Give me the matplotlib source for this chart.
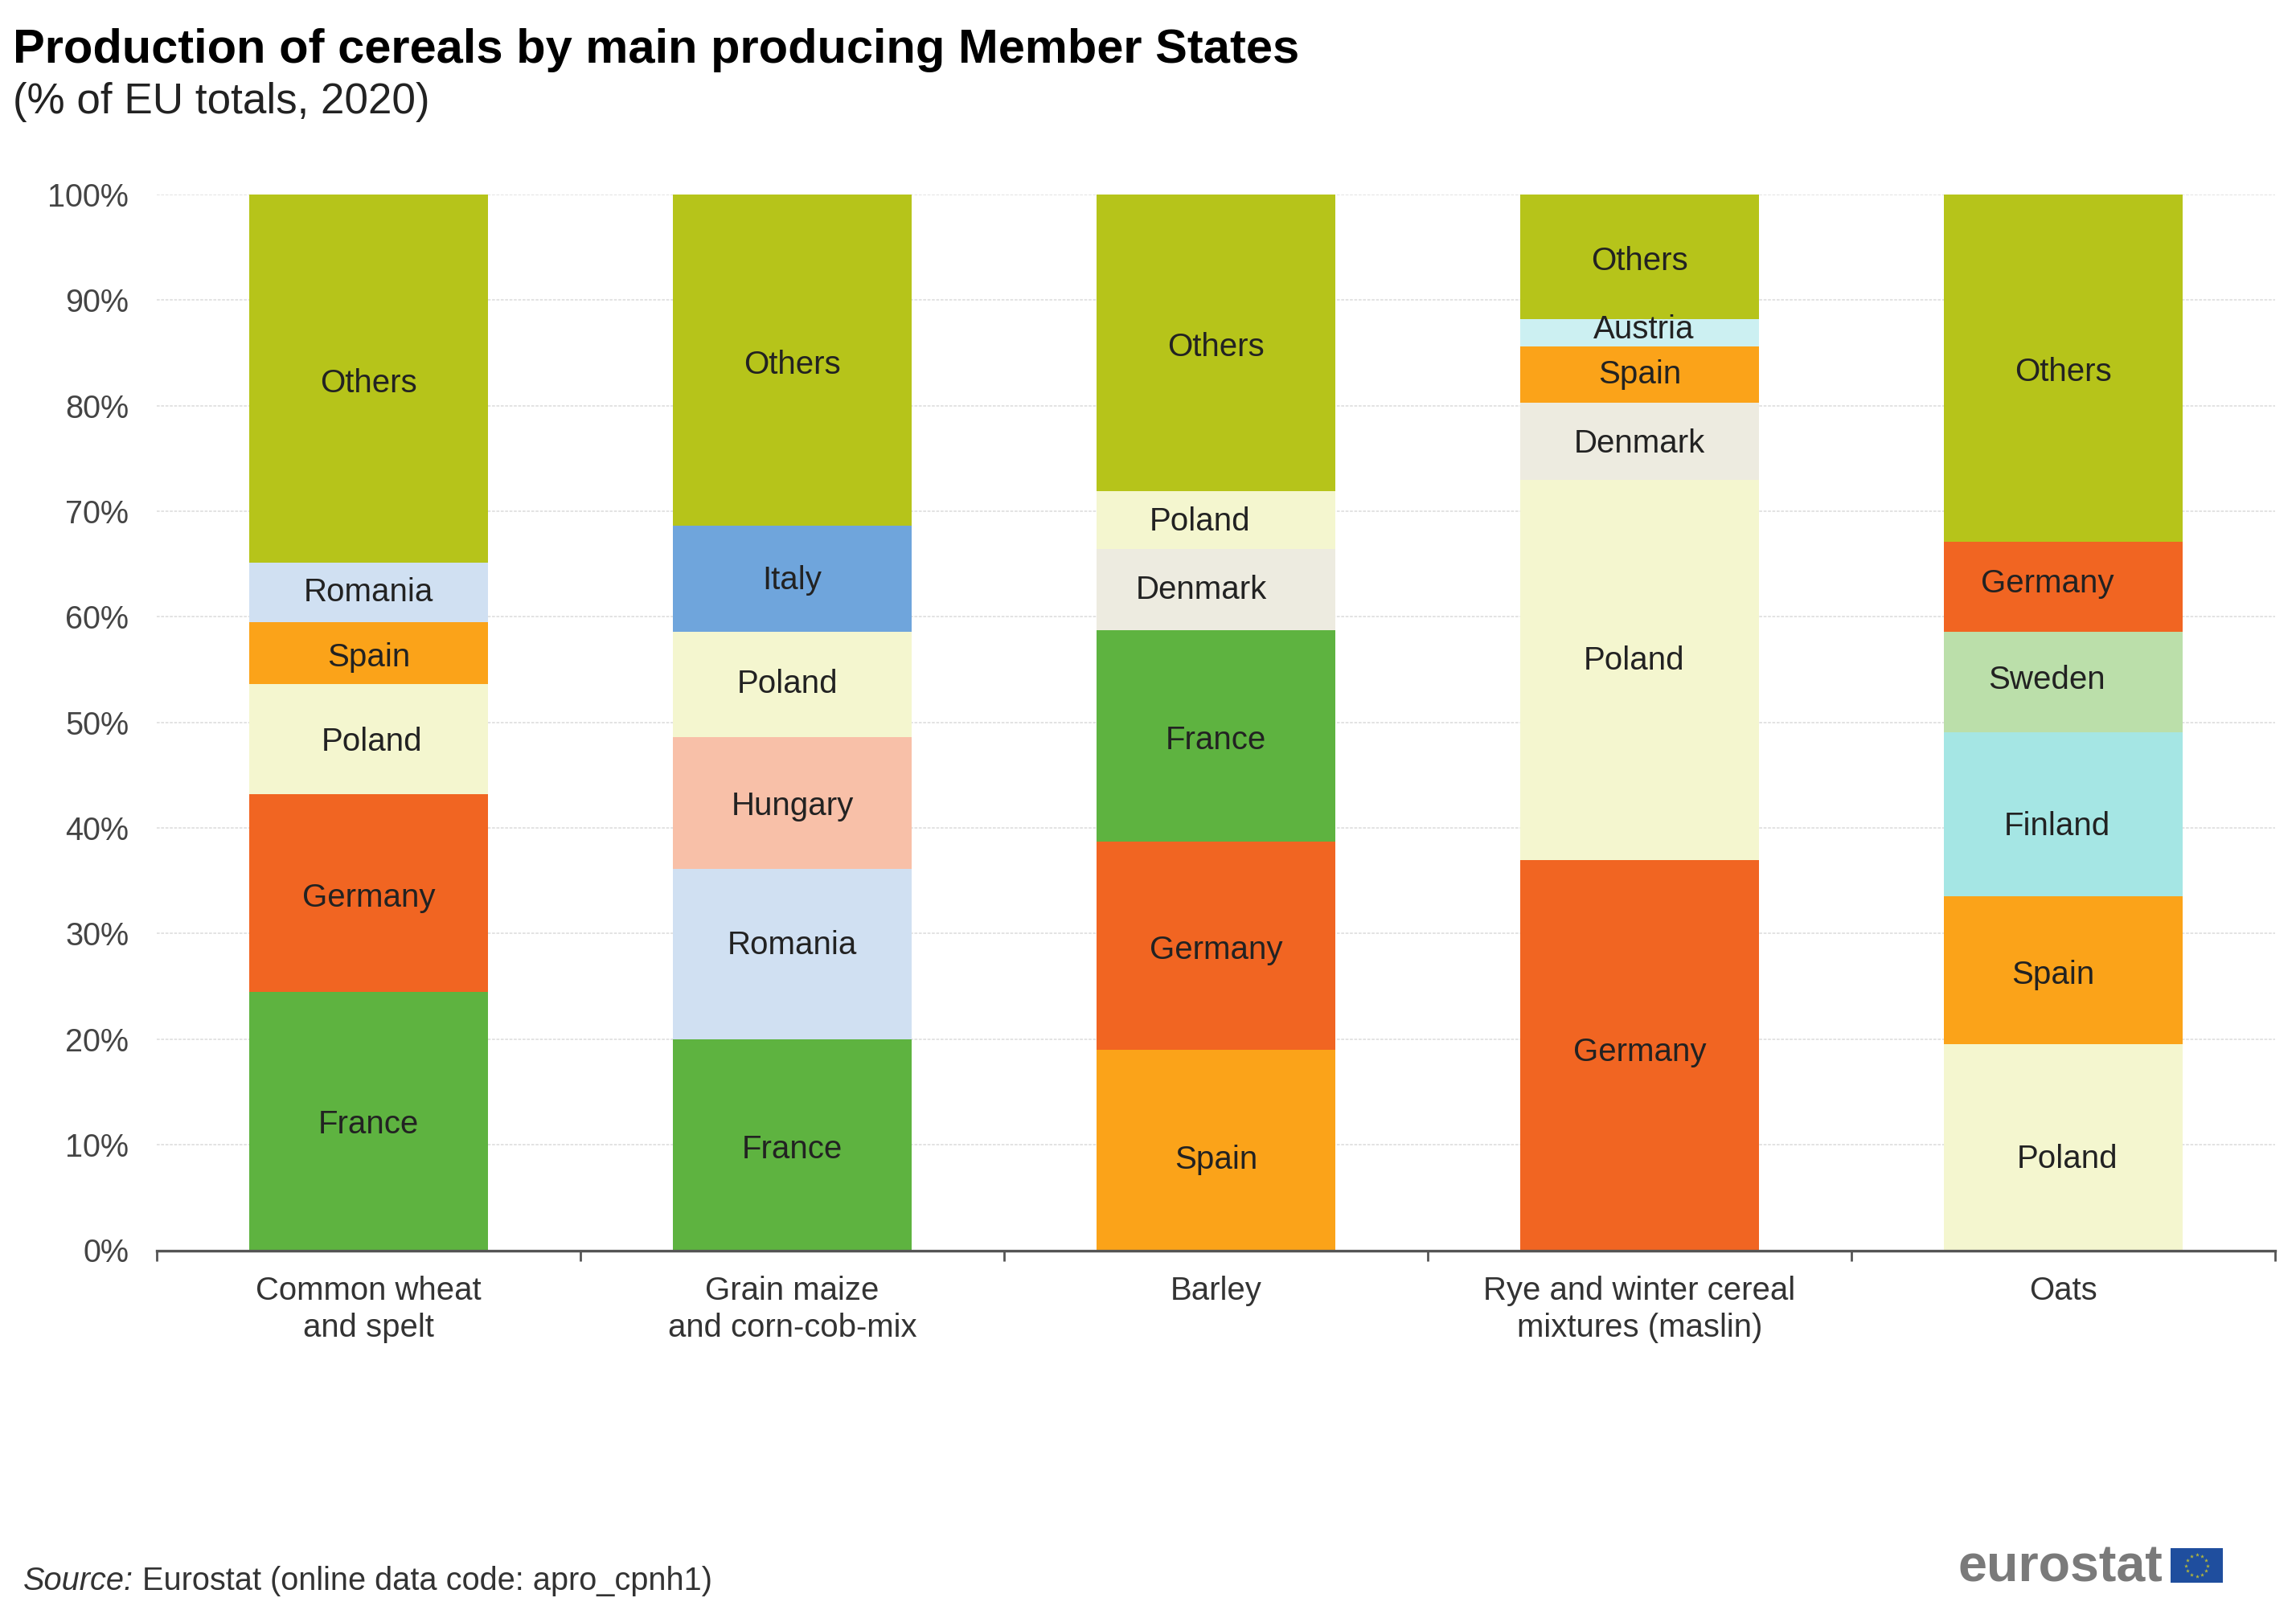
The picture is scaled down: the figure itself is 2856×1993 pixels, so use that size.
import numpy as np
import matplotlib
matplotlib.use("Agg")
import matplotlib.pyplot as plt
from matplotlib.patches import Rectangle

plt.rcParams['font.family'] = ['Liberation Sans', 'DejaVu Sans']

categories = ['Common wheat\nand spelt', 'Grain maize\nand corn-cob-mix', 'Barley',
              'Rye and winter cereal\nmixtures (maslin)', 'Oats']

wheat_countries = ['France', 'Germany', 'Poland', 'Spain', 'Romania', 'Others']
wheat_values = [24.5, 18.7, 10.4, 5.9, 5.6, 34.9]

maize_countries = ['France', 'Romania', 'Hungary', 'Poland', 'Italy', 'Others']
maize_values = [20.0, 16.1, 12.5, 10.0, 10.0, 31.4]

barley_countries = ['Spain', 'Germany', 'France', 'Denmark', 'Poland', 'Others']
barley_values = [19.0, 19.7, 20.0, 7.7, 5.5, 28.1]

rye_countries = ['Germany', 'Poland', 'Denmark', 'Spain', 'Austria', 'Others']
rye_values = [37.0, 36.0, 7.3, 5.3, 2.6, 11.8]

oats_countries = ['Poland', 'Spain', 'Finland', 'Sweden', 'Germany', 'Others']
oats_values = [19.5, 14.0, 15.6, 9.5, 8.5, 33.0]

stack_countries = [wheat_countries, maize_countries, barley_countries, rye_countries, oats_countries]
stack_values = [wheat_values, maize_values, barley_values, rye_values, oats_values]

colors = {'France': '#5EB340', 'Germany': '#F16522', 'Poland': '#F4F6CF', 'Spain': '#FBA319',
          'Romania': '#D0E0F2', 'Hungary': '#F8C0A8', 'Italy': '#6FA5DC', 'Denmark': '#EDEBE0',
          'Austria': '#CCF0F2', 'Finland': '#A5E6E4', 'Sweden': '#BBDFAA', 'Others': '#B6C41A'}

# hand placement of the labels as in the original (pixels, y downwards)
S = 2856 / 1568
label_dx = {(0, 'Poland'): 2, (1, 'Poland'): -3, (2, 'Denmark'): -10, (2, 'Poland'): -11,
            (3, 'Poland'): -4, (3, 'Austria'): 3, (4, 'Germany'): -11, (4, 'Sweden'): -11,
            (4, 'Finland'): -4, (4, 'Spain'): -7, (4, 'Poland'): 3}
label_dy = {(0, 'France'): 2.5, (0, 'Germany'): 3.5, (0, 'Poland'): 2, (0, 'Spain'): 3, (0, 'Others'): 3,
            (1, 'France'): 3, (1, 'Romania'): -6, (1, 'Hungary'): 2, (1, 'Italy'): 1, (1, 'Others'): 3,
            (2, 'Spain'): 7, (2, 'Germany'): 3, (2, 'France'): 3, (2, 'Poland'): 1, (2, 'Others'): 3,
            (3, 'Germany'): -2, (3, 'Poland'): -6, (3, 'Denmark'): 2, (3, 'Austria'): -2, (3, 'Others'): 3,
            (4, 'Poland'): 8, (4, 'Spain'): 3, (4, 'Finland'): 8, (4, 'Sweden'): -1, (4, 'Germany'): -2,
            (4, 'Others'): 3}

W, H = 2856, 1993
fig = plt.figure(figsize=(W / 100, H / 100), dpi=100, facecolor='white')
L, R, T, B = 195, 2830, 242, 1555.5
ax = fig.add_axes([L / W, 1 - B / H, (R - L) / W, (B - T) / H])

ax.set_xlim(-0.5, 4.5)
ax.set_ylim(0, 100)
for s in ['top', 'right', 'left']:
    ax.spines[s].set_visible(False)
ax.spines['bottom'].set_color('#555555')
ax.spines['bottom'].set_linewidth(2.4)
ax.spines['bottom'].set_zorder(5)

ax.set_axisbelow(True)
ax.set_yticks(np.arange(0, 101, 10))
ax.set_yticklabels([f'{v}%' for v in range(0, 101, 10)], fontsize=28.5, color='#444444')
ax.tick_params(axis='y', length=0, pad=25)
ax.yaxis.grid(True, color='#E0E0E0', linestyle=(0, (2, 1)), linewidth=1.3)

ax.set_xticks(np.arange(-0.5, 4.6, 1))
ax.set_xticklabels([])
ax.tick_params(axis='x', which='major', length=9, width=2, color='#555555')
ax.set_xticks(np.arange(5), minor=True)
ax.set_xticklabels(categories, minor=True, fontsize=28.9, color='#333333', linespacing=1.27)
ax.tick_params(axis='x', which='minor', length=0, pad=22.5)

width = 163 * S / ((R - L) / 5)
for i, (names, vals) in enumerate(zip(stack_countries, stack_values)):
    bottom = 0.0
    for name, v in zip(names, vals):
        ax.bar(i, v, width=width, bottom=bottom, color=colors[name], linewidth=0, zorder=3)
        dx = label_dx.get((i, name), 0) * S / ((R - L) / 5)
        dy = label_dy.get((i, name), 0) * S / ((B - T) / 100)
        ax.text(i + dx, bottom + v / 2 - dy, name, ha='center', va='center', fontsize=29,
                color='#222222', zorder=4)
        bottom += v

fig.text(16 / W, 1 - 62 / H, 'Production of cereals by main producing Member States',
         fontsize=42.9, fontweight='bold', color='black', ha='left', va='center')
fig.text(16 / W, 1 - 127 / H, '(% of EU totals, 2020)', fontsize=38.2, color='#222222',
         ha='left', va='center')

src = fig.text(29 / W, 1 - 1967 / H, 'Source:', fontsize=28.65, style='italic', color='#333333',
               ha='left', va='center')
ax.annotate(' Eurostat (online data code: apro_cpnh1)', xy=(1, 0.5), xycoords=src,
            xytext=(0, 0), textcoords='offset points', fontsize=28.65, color='#333333',
            ha='left', va='center', annotation_clip=False)

# Eurostat logo
fig.text(2436 / W, 1 - 1968 / H, 'eurostat', fontsize=46.5, fontweight='bold', color='#7A7A7A',
         ha='left', va='baseline')
logo = fig.add_axes([2700 / W, 1 - 1969 / H, 65 / W, 43 / H])
logo.set_xlim(-1.5, 1.5)
logo.set_ylim(-1, 1)
logo.axis('off')
logo.add_patch(Rectangle((-1.5, -1), 3, 2, color='#1F4E9E'))
ang = np.deg2rad(np.arange(0, 360, 30))
logo.scatter(0.62 * np.cos(ang), 0.62 * np.sin(ang), marker='*', s=14, color='#B5B83A', linewidths=0)

fig.savefig('out.png', dpi=100, facecolor='white')
